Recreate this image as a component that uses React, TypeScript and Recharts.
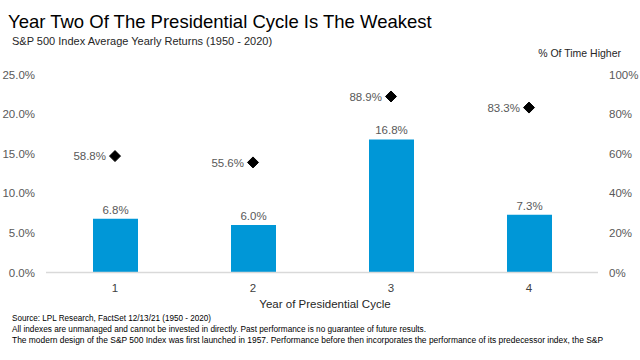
import { ComposedChart, Bar, Line, XAxis, YAxis, LabelList } from "recharts";

const years = ["1", "2", "3", "4"];
const avgReturn = [6.8, 6.0, 16.8, 7.3];
const pctHigher = [58.8, 55.6, 88.9, 83.3];
const leftTicks = [0, 5, 10, 15, 20, 25];
const rightTicks = [0, 20, 40, 60, 80, 100];
const footnotes = [
  "Source: LPL Research, FactSet 12/13/21 (1950 - 2020)",
  "All indexes are unmanaged and cannot be invested in directly. Past performance is no guarantee of future results.",
  "The modern design of the S&P 500 Index was first launched in 1957. Performance before then incorporates the performance of its  predecessor index, the S&P",
];
const footWidths = [199, 414, 591];

const data = years.map((y, i) => ({ year: y, ret: avgReturn[i], higher: pctHigher[i] }));

const FONT = "'Liberation Sans', Arial, sans-serif";
const NOTE_FONT = "'Liberation Sans Narrow', 'Liberation Sans', Arial, sans-serif";

function Diamond(props: any) {
  const { cx, cy, payload, index } = props;
  if (cx == null || cy == null) return null;
  const r = 5.5;
  return (
    <g key={`dia-${index}`}>
      <path
        d={`M${cx} ${cy - r} L${cx + r} ${cy} L${cx} ${cy + r} L${cx - r} ${cy} Z`}
        fill="#000"
        stroke="#000"
        strokeWidth={1}
        strokeLinejoin="round"
      />
      <text x={cx - 9} y={cy} dy="0.36em" textAnchor="end" fontSize={11.5} fill="#595959" fontFamily={FONT}>
        {payload.higher.toFixed(1)}%
      </text>
    </g>
  );
}

export default function App() {
  return (
    <div style={{ position: "absolute", left: 0, top: 0, width: 640, height: 360, background: "#fff", fontFamily: FONT }}>
      <ComposedChart width={640} height={360} data={data} margin={{ top: 74.5, right: 0, bottom: 57.5, left: 0 }}>
        <XAxis
          dataKey="year"
          height={30}
          axisLine={{ stroke: "#d9d9d9", strokeWidth: 1.5 }}
          tickLine={false}
          tickMargin={5}
          tick={{ fontSize: 11.5, fill: "#404040", fontFamily: FONT }}
        />
        <YAxis
          yAxisId="left"
          domain={[0, 25]}
          ticks={leftTicks}
          width={46}
          axisLine={false}
          tickLine={false}
          tickMargin={5}
          tickFormatter={(v: number) => `${v.toFixed(1)}%`}
          tick={{ fontSize: 11.5, fill: "#595959", fontFamily: FONT }}
        />
        <YAxis
          yAxisId="right"
          orientation="right"
          domain={[0, 100]}
          ticks={rightTicks}
          width={42}
          axisLine={false}
          tickLine={false}
          tickMargin={5}
          tickFormatter={(v: number) => `${v}%`}
          tick={{ fontSize: 11.5, fill: "#595959", fontFamily: FONT }}
        />
        <Bar yAxisId="left" dataKey="ret" fill="#0097d7" barSize={45} isAnimationActive={false}>
          <LabelList
            dataKey="ret"
            position="top"
            formatter={(v: number) => `${v.toFixed(1)}%`}
            style={{ fontSize: 11.5, fill: "#595959", fontFamily: FONT }}
          />
        </Bar>
        <Line
          yAxisId="right"
          dataKey="higher"
          stroke="none"
          dot={Diamond}
          activeDot={false}
          legendType="none"
          isAnimationActive={false}
        />
      </ComposedChart>
      <svg width={640} height={360} style={{ position: "absolute", left: 0, top: 0, pointerEvents: "none" }}>
        <text x={8} y={27.5} fontSize={18.5} fill="#000" fontFamily={FONT}>
          Year Two Of The Presidential Cycle Is The Weakest
        </text>
        <text x={12} y={45} fontSize={11} fill="#262626" fontFamily={FONT}>
          S&amp;P 500 Index Average Yearly Returns (1950 - 2020)
        </text>
        <text x={621} y={57} fontSize={10.5} fill="#262626" textAnchor="end" fontFamily={FONT}>
          % Of Time Higher
        </text>
        <text x={325} y={308} fontSize={11.5} fill="#262626" textAnchor="middle" fontFamily={FONT}>
          Year of Presidential Cycle
        </text>
        {footnotes.map((t, i) => (
          <text
            key={i}
            x={12}
            y={321 + i * 11}
            fontSize={8.5}
            fill="#000"
            fontFamily={NOTE_FONT}
            textLength={footWidths[i]}
            lengthAdjust="spacingAndGlyphs"
          >
            {t}
          </text>
        ))}
      </svg>
    </div>
  );
}
